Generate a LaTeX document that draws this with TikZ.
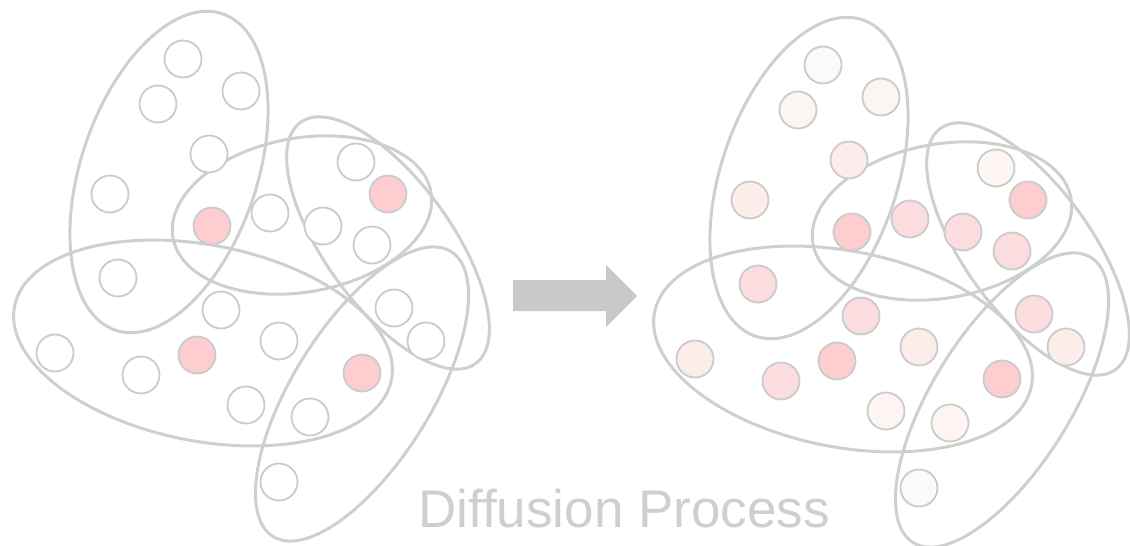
\documentclass[tikz,border=0pt]{standalone}
\usepackage{fontspec}
\setmainfont{Liberation Sans}
\usetikzlibrary{positioning}

\definecolor{edgegray}{HTML}{CFCFCF}
\definecolor{rimgray}{HTML}{CBCBCB}
\definecolor{arrowgray}{HTML}{C9C9C9}
\definecolor{hot}{HTML}{FDCDCF}
\definecolor{warm}{HTML}{FBDDE0}
\definecolor{mild}{HTML}{FCEDEA}
\definecolor{cool}{HTML}{FCF5F2}
\definecolor{pale}{HTML}{FCFAF9}

\begin{document}
\begin{tikzpicture}[
		x=1pt, y=-1pt,
		hyperedge/.style={draw=edgegray, line width=3pt},
		vtx/.style={circle, draw=rimgray, line width=1.8pt, minimum size=37pt, inner sep=0pt},
		caption/.style={text=edgegray, font=\fontsize{53}{53}\selectfont, anchor=base}
	]
		\useasboundingbox (0,0) rectangle (1130,546);

		% Hyperedges, same layout before and after
		\foreach \dx/\dy in {0/0, 640/6} {
			\begin{scope}[shift={(\dx,\dy)}]
				\draw[hyperedge, rotate around={-18.7:(169,172)}] (169,172) ellipse [x radius=88, y radius=167];
				\draw[hyperedge, rotate around={10:(302,215)}] (302,215) ellipse [x radius=131, y radius=77];
				\draw[hyperedge, rotate around={36:(388,243)}] (388,243) ellipse [x radius=63, y radius=149];
				\draw[hyperedge, rotate around={-11:(203,343)}] (203,343) ellipse [x radius=192, y radius=98];
				\draw[hyperedge, rotate around={-32:(362,394)}] (362,394) ellipse [x radius=69, y radius=168];
			\end{scope}
		}

		% Vertices: left before diffusion, right after
		\foreach \i/\x/\y/\ca/\cb in {
				1/183/59/white/pale, 2/241/91/white/cool, 3/158/104/white/cool,
				4/209/154/white/mild, 5/110/194/white/mild, 6/212/226/hot/hot,
				7/270/213/white/warm, 8/356/162/white/cool, 9/388/194/hot/hot,
				10/323/226/white/warm, 11/372/245/white/warm, 12/118/278/white/warm,
				13/221/310/white/warm, 14/279/341/white/mild, 15/394/308/white/warm,
				16/426/341/white/mild, 17/55/353/white/mild, 18/141/375/white/warm,
				19/197/355/hot/hot, 20/362/373/hot/hot, 21/246/405/white/cool,
				22/310/417/white/cool, 23/279/482/white/pale} {
			\node[vtx, fill=\ca] (l\i) at (\x,\y) {};
			\node[vtx, fill=\cb] (r\i) at (\x+640,\y+6) {};
		}

		% Arrow and caption
		\fill[arrowgray] (513,280) -- (606,280) -- (606,265) -- (637,296)
			-- (606,327) -- (606,311) -- (513,311) -- cycle;
		\node[caption] (label) at (624,527) {Diffusion Process};

	\end{tikzpicture}
\end{document}
